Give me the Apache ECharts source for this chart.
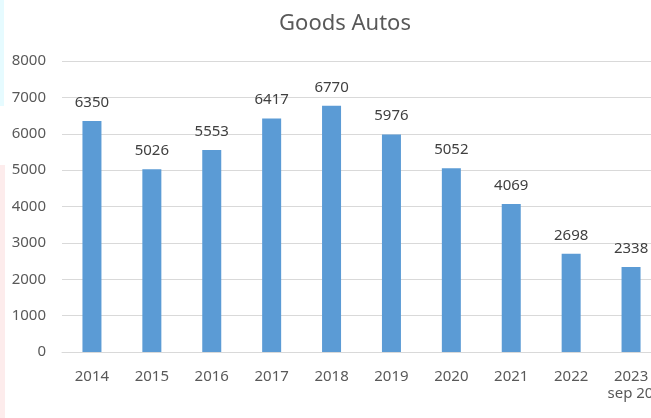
<!DOCTYPE html>
<html>
<head>
<meta charset="utf-8">
<script src="https://cdn.jsdelivr.net/npm/echarts@6/dist/echarts.min.js"></script>
<style>
  html, body { margin: 0; padding: 0; background: #ffffff; }
  #chart { width: 651px; height: 418px; }
</style>
</head>
<body>
<div id="chart"></div>
<script>
// Goods autos registered per year
const categories = ['2014', '2015', '2016', '2017', '2018', '2019', '2020', '2021', '2022', '2023\nsep 2023'];
const goodsAutos = [6350, 5026, 5553, 6417, 6770, 5976, 5052, 4069, 2698, 2338];
const yTicks = [0, 1000, 2000, 3000, 4000, 5000, 6000, 7000, 8000];

const FONT = '"Noto Sans", "Open Sans", sans-serif';
const chart = echarts.init(document.getElementById('chart'), null, { renderer: 'canvas' });

// second line of a wrapped category sits slightly right of centre
function categoryLabel(value) {
  const lines = value.split('\n');
  if (lines.length < 2) return value;
  return lines[0] + '\n{sub|' + lines[1] + '}';
}

chart.setOption({
  animation: false,
  backgroundColor: '#ffffff',
  title: {
    text: 'Goods Autos',
    left: 340,
    textAlign: 'center',
    top: 8,
    textStyle: { fontFamily: FONT, fontSize: 22, fontWeight: 'normal', color: '#595959' }
  },
  graphic: [
    { type: 'rect', left: 0, top: 0, shape: { width: 4, height: 106 }, style: { fill: '#e6fbff' }, silent: true },
    { type: 'rect', left: 0, top: 165, shape: { width: 5, height: 253 }, style: { fill: '#fdecec' }, silent: true }
  ],
  grid: { left: 62, right: -10, top: 61, bottom: 66, containLabel: false, outerBoundsMode: 'none' },
  xAxis: {
    type: 'category',
    data: categories,
    axisLine: { show: true, lineStyle: { color: '#d9d9d9', width: 1 } },
    axisTick: { show: false },
    axisLabel: {
      fontFamily: FONT, fontSize: 15, color: '#595959', margin: 16,
      interval: 0, lineHeight: 17, hideOverlap: false,
      formatter: categoryLabel,
      rich: {
        sub: { fontFamily: FONT, fontSize: 15, color: '#595959', lineHeight: 17, padding: [0, 0, 0, 16] }
      }
    }
  },
  yAxis: {
    type: 'value',
    min: yTicks[0],
    max: yTicks[yTicks.length - 1],
    interval: yTicks[1] - yTicks[0],
    axisLine: { show: false },
    axisTick: { show: false },
    splitLine: { lineStyle: { color: '#d9d9d9', width: 1 } },
    axisLabel: {
      fontFamily: FONT, fontSize: 15, color: '#595959', margin: 16,
      formatter: (v) => String(v)
    }
  },
  series: [{
    type: 'bar',
    data: goodsAutos,
    barWidth: 19,
    itemStyle: { color: '#5b9bd5' },
    label: {
      show: true,
      position: 'top',
      distance: 11,
      fontFamily: FONT,
      fontSize: 15,
      color: '#404040'
    }
  }]
});
</script>
</body>
</html>
